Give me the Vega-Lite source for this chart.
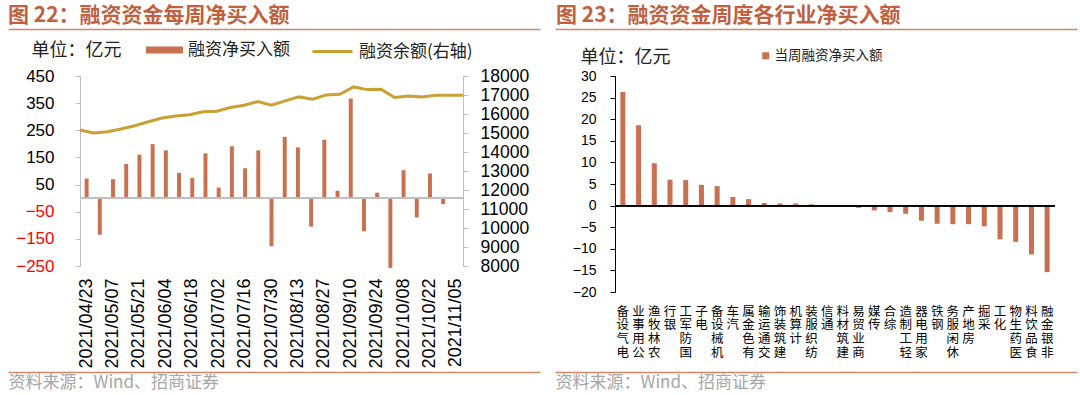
{
  "$schema": "https://vega.github.io/schema/vega-lite/v6.json",
  "padding": {"left": 5, "top": 5, "right": 0, "bottom": 0},
  "background": "white",
  "bounds": "flush",
  "spacing": 152,
  "config": {"view": {"stroke": null}, "font": "Liberation Sans", "axis": {"grid": false}},
  "resolve": {"scale": {"fill": "independent"}, "legend": {"fill": "independent"}},
  "datasets": {
    "weekly": [
      {"date": "2021/04/23", "net": 72, "balance": 15155},
      {"date": "2021/04/30", "net": -135, "balance": 15000},
      {"date": "2021/05/07", "net": 70, "balance": 15068},
      {"date": "2021/05/14", "net": 126, "balance": 15209},
      {"date": "2021/05/21", "net": 160, "balance": 15382},
      {"date": "2021/05/28", "net": 199, "balance": 15591},
      {"date": "2021/06/04", "net": 176, "balance": 15785},
      {"date": "2021/06/11", "net": 93, "balance": 15890},
      {"date": "2021/06/18", "net": 74, "balance": 15958},
      {"date": "2021/06/25", "net": 165, "balance": 16115},
      {"date": "2021/07/02", "net": 39, "balance": 16150},
      {"date": "2021/07/09", "net": 191, "balance": 16340},
      {"date": "2021/07/16", "net": 110, "balance": 16465},
      {"date": "2021/07/23", "net": 176, "balance": 16654},
      {"date": "2021/07/30", "net": -177, "balance": 16465},
      {"date": "2021/08/06", "net": 226, "balance": 16690},
      {"date": "2021/08/13", "net": 187, "balance": 16900},
      {"date": "2021/08/20", "net": -105, "balance": 16780},
      {"date": "2021/08/27", "net": 215, "balance": 17005},
      {"date": "2021/09/03", "net": 27, "balance": 17040},
      {"date": "2021/09/10", "net": 367, "balance": 17424},
      {"date": "2021/09/17", "net": -122, "balance": 17284},
      {"date": "2021/09/24", "net": 20, "balance": 17300},
      {"date": "2021/09/30", "net": -257, "balance": 16865},
      {"date": "2021/10/08", "net": 103, "balance": 16953},
      {"date": "2021/10/15", "net": -71, "balance": 16900},
      {"date": "2021/10/22", "net": 91, "balance": 16987},
      {"date": "2021/10/29", "net": -22, "balance": 16987},
      {"date": "2021/11/05", "net": 2, "balance": 16987}
    ],
    "industry": [
      {"industry": "电气设备", "value": 26.3},
      {"industry": "公用事业", "value": 18.6},
      {"industry": "农林牧渔", "value": 9.8},
      {"industry": "银行", "value": 6.0},
      {"industry": "国防军工", "value": 5.9},
      {"industry": "电子", "value": 4.8},
      {"industry": "机械设备", "value": 4.5},
      {"industry": "汽车", "value": 2.0},
      {"industry": "有色金属", "value": 1.5},
      {"industry": "交通运输", "value": 0.6},
      {"industry": "建筑装饰", "value": 0.5},
      {"industry": "计算机", "value": 0.5},
      {"industry": "纺织服装", "value": 0.3},
      {"industry": "通信", "value": 0.1},
      {"industry": "建筑材料", "value": -0.05},
      {"industry": "商业贸易", "value": -0.5},
      {"industry": "传媒", "value": -1.1},
      {"industry": "综合", "value": -1.5},
      {"industry": "轻工制造", "value": -1.9},
      {"industry": "家用电器", "value": -3.5},
      {"industry": "钢铁", "value": -4.2},
      {"industry": "休闲服务", "value": -4.3},
      {"industry": "房地产", "value": -4.3},
      {"industry": "采掘", "value": -4.8},
      {"industry": "化工", "value": -7.8},
      {"industry": "医药生物", "value": -8.4},
      {"industry": "食品饮料", "value": -11.3},
      {"industry": "非银金融", "value": -15.4}
    ]
  },
  "hconcat": [
    {
      "width": 383,
      "height": 190,
      "data": {"name": "weekly"},
      "title": {"text": "图 22：融资资金每周净买入额", "anchor": "start", "frame": "group", "dx": -72, "offset": -18, "font": "Noto Sans CJK SC", "fontSize": 21, "fontWeight": "bold", "color": "#C0603E", "baseline": "bottom"},
      "resolve": {"scale": {"x": "independent", "y": "independent"}, "axis": {"x": "independent", "y": "independent"}},
      "layer": [
        {
          "mark": {"type": "bar", "width": {"band": 0.3}},
          "encoding": {
            "x": {"field": "date", "type": "ordinal", "scale": {"paddingInner": 0, "paddingOuter": 0},
              "axis": {"values": ["2021/04/23","2021/05/07","2021/05/21","2021/06/04","2021/06/18","2021/07/02","2021/07/16","2021/07/30","2021/08/13","2021/08/27","2021/09/10","2021/09/24","2021/10/08","2021/10/22","2021/11/05"],
                "labelAngle": 270, "domain": false, "ticks": false, "tickSize": 0, "labelPadding": 12, "labelFontSize": 18, "labelColor": "#000000", "labelOverlap": false, "title": null}},
            "y": {"field": "net", "type": "quantitative", "scale": {"domain": [-250, 450], "nice": false, "zero": false},
              "axis": {"values": [-250,-150,-50,50,150,250,350,450], "domainColor": "#BFBFBF", "tickColor": "#BFBFBF", "tickSize": 5, "labelFontSize": 17, "labelPadding": 21,
                "labelColor": {"condition": {"test": "datum.value < 0", "value": "#FF0000"}, "value": "#000000"},
                "title": "单位：亿元", "titleAngle": 0, "titleAlign": "left", "titleBaseline": "middle", "titleX": -49, "titleY": -26, "titleFont": "Noto Sans CJK SC", "titleFontSize": 18, "titleFontWeight": "normal", "titleColor": "#222222"}},
            "fill": {"datum": "融资净买入额", "type": "nominal", "scale": {"range": ["#C8704F"]},
              "legend": {"orient": "none", "legendX": 66, "legendY": -44.5, "title": null, "symbolType": "M-1,-0.19H1V0.19H-1Z", "symbolSize": 1369, "symbolStrokeWidth": 0, "labelFont": "Noto Sans CJK SC", "labelFontSize": 17, "labelOffset": 5, "padding": 0, "labelColor": "#222222"}}
          }
        },
        {
          "mark": {"type": "rule", "color": "#BFBFBF", "strokeWidth": 1},
          "encoding": {"y": {"datum": 0, "type": "quantitative", "scale": {"domain": [-250, 450], "nice": false, "zero": false}, "axis": null}}
        },
        {
          "mark": {"type": "line", "strokeWidth": 3},
          "encoding": {
            "x": {"field": "date", "type": "ordinal", "scale": {"type": "point", "padding": 0}, "axis": null},
            "y": {"field": "balance", "type": "quantitative", "scale": {"domain": [8000, 18000], "nice": false, "zero": false},
              "axis": {"orient": "right", "values": [8000,9000,10000,11000,12000,13000,14000,15000,16000,17000,18000], "format": "d", "domainColor": "#BFBFBF", "tickColor": "#BFBFBF", "tickSize": 5, "labelFontSize": 17.5, "labelPadding": 12, "labelColor": "#000000", "title": null}},
            "stroke": {"datum": "融资余额(右轴)", "type": "nominal", "scale": {"range": ["#C9A032"]},
              "legend": {"orient": "none", "legendX": 231, "legendY": -46, "title": null, "symbolType": "stroke", "symbolSize": 1600, "symbolStrokeWidth": 3, "labelFont": "Noto Sans CJK SC", "labelFontSize": 17, "labelOffset": 5, "padding": 0, "labelColor": "#222222"}}
          }
        },
        {
          "mark": {"type": "point", "opacity": 0},
          "encoding": {
            "x": {"datum": 0, "type": "quantitative", "scale": {"domain": [0, 1], "range": [-72, 460]},
              "axis": {"orient": "top", "offset": 47, "minExtent": 0, "maxExtent": 0, "domainColor": "#D08868", "domainWidth": 1.5, "ticks": false, "labels": false, "grid": false, "title": null}},
            "y": {"datum": 0, "type": "quantitative", "scale": {"domain": [0, 1]}, "axis": null}
          }
        },
        {
          "mark": {"type": "point", "opacity": 0},
          "encoding": {
            "x": {"datum": 0, "type": "quantitative", "scale": {"domain": [0, 1], "range": [-72, 460]},
              "axis": {"orient": "bottom", "offset": 106, "minExtent": 0, "maxExtent": 0, "domainColor": "#D08868", "domainWidth": 1.5, "ticks": false, "labels": false, "grid": false,
                "title": "资料来源：Wind、招商证券", "titleAnchor": "start", "titleAlign": "left", "titleBaseline": "top", "titlePadding": 2, "titleFont": "Noto Sans CJK SC", "titleFontSize": 17, "titleFontWeight": "normal", "titleColor": "#A6A6A6"}},
            "y": {"datum": 0, "type": "quantitative", "scale": {"domain": [0, 1]}, "axis": null}
          }
        }
      ]
    },
    {
      "width": 440,
      "height": 216,
      "data": {"name": "industry"},
      "title": {"text": "图 23：融资资金周度各行业净买入额", "anchor": "start", "frame": "group", "dx": -59, "offset": -18, "font": "Noto Sans CJK SC", "fontSize": 21, "fontWeight": "bold", "color": "#C0603E", "baseline": "bottom"},
      "resolve": {"scale": {"x": "independent", "y": "independent"}, "axis": {"x": "independent", "y": "independent"}},
      "layer": [
        {
          "mark": {"type": "bar", "width": {"band": 0.32}},
          "encoding": {
            "x": {"field": "industry", "type": "nominal", "sort": null, "scale": {"paddingInner": 0, "paddingOuter": 0},
              "axis": {"labelExpr": "reverse(split(datum.label, ''))", "labelAngle": 0, "labelAlign": "center", "labelBaseline": "top", "labelLineHeight": 13.8, "labelFont": "Noto Sans CJK SC", "labelFontSize": 12.5, "labelColor": "#000000", "labelPadding": 13, "domain": false, "ticks": false, "tickSize": 0, "labelOverlap": false, "title": null}},
            "y": {"field": "value", "type": "quantitative", "scale": {"domain": [-20, 30], "nice": false, "zero": false},
              "axis": {"values": [-20,-15,-10,-5,0,5,10,15,20,25,30], "domainColor": "#000000", "tickColor": "#000000", "tickSize": 5, "labelFontSize": 14, "labelPadding": 14, "labelColor": "#000000",
                "title": "单位：亿元", "titleAngle": 0, "titleAlign": "left", "titleBaseline": "middle", "titleX": -35, "titleY": -19, "titleFont": "Noto Sans CJK SC", "titleFontSize": 18, "titleFontWeight": "normal", "titleColor": "#222222"}},
            "fill": {"datum": "当周融资净买入额", "type": "nominal", "scale": {"range": ["#C8704F"]},
              "legend": {"orient": "none", "legendX": 144, "legendY": -27, "title": null, "symbolType": "square", "symbolSize": 49, "symbolStrokeWidth": 0, "labelFont": "Noto Sans CJK SC", "labelFontSize": 13.5, "labelOffset": 2, "padding": 0, "labelColor": "#222222"}}
          }
        },
        {
          "mark": {"type": "rule", "color": "#000000", "strokeWidth": 1},
          "encoding": {"y": {"datum": 0, "type": "quantitative", "scale": {"domain": [-20, 30], "nice": false, "zero": false}, "axis": null}}
        },
        {
          "mark": {"type": "point", "opacity": 0},
          "encoding": {
            "x": {"datum": 0, "type": "quantitative", "scale": {"domain": [0, 1], "range": [-60, 462]},
              "axis": {"orient": "top", "offset": 47, "minExtent": 0, "maxExtent": 0, "domainColor": "#D08868", "domainWidth": 1.5, "ticks": false, "labels": false, "grid": false, "title": null}},
            "y": {"datum": 0, "type": "quantitative", "scale": {"domain": [0, 1]}, "axis": null}
          }
        },
        {
          "mark": {"type": "point", "opacity": 0},
          "encoding": {
            "x": {"datum": 0, "type": "quantitative", "scale": {"domain": [0, 1], "range": [-60, 462]},
              "axis": {"orient": "bottom", "offset": 80, "minExtent": 0, "maxExtent": 0, "domainColor": "#D08868", "domainWidth": 1.5, "ticks": false, "labels": false, "grid": false,
                "title": "资料来源：Wind、招商证券", "titleAnchor": "start", "titleAlign": "left", "titleBaseline": "top", "titlePadding": 2, "titleFont": "Noto Sans CJK SC", "titleFontSize": 17, "titleFontWeight": "normal", "titleColor": "#A6A6A6"}},
            "y": {"datum": 0, "type": "quantitative", "scale": {"domain": [0, 1]}, "axis": null}
          }
        }
      ]
    }
  ]
}
